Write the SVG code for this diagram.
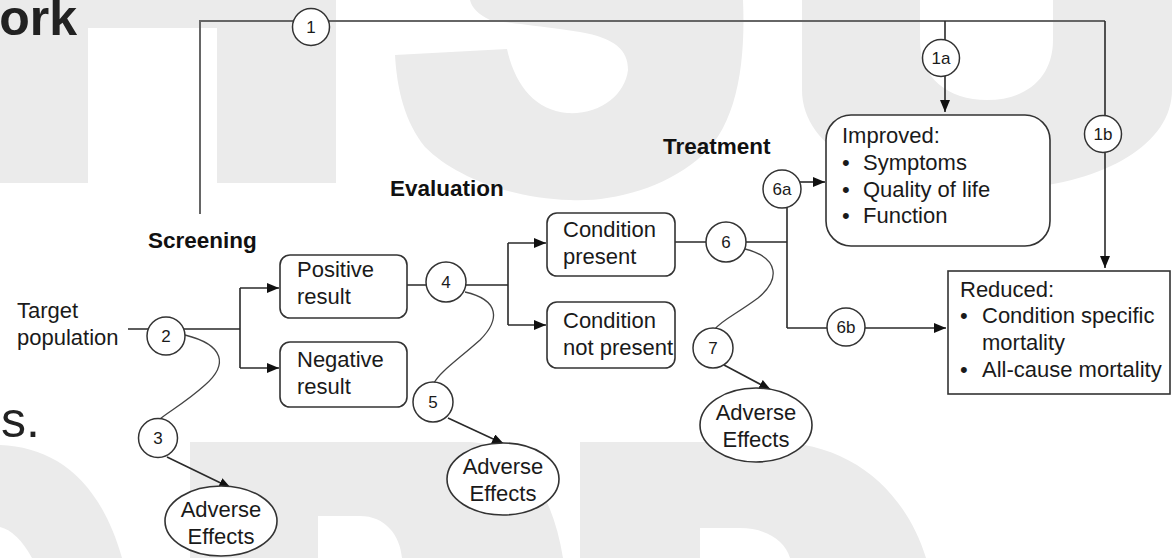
<svg xmlns="http://www.w3.org/2000/svg" width="1175" height="558" viewBox="0 0 1175 558">
<defs>
<style>
.wm{fill:#ebebeb;stroke:none}
.big{font-family:"Liberation Sans",Arial,sans-serif;fill:#222}
.t{font-family:"Liberation Sans",Arial,sans-serif;font-size:22px;fill:#1a1a1a}
.b{font-family:"Liberation Sans",Arial,sans-serif;font-size:22.5px;font-weight:bold;fill:#111}
.n{font-family:"Liberation Sans",Arial,sans-serif;font-size:17px;fill:#1a1a1a;text-anchor:middle}
.c{font-family:"Liberation Sans",Arial,sans-serif;font-size:22px;fill:#1a1a1a;text-anchor:middle}
.box{fill:#fff;stroke:#333;stroke-width:1.6}
.circ{fill:#fff;stroke:#333;stroke-width:1.5}
.ln{fill:none;stroke:#2a2a2a;stroke-width:1.6}
.gl{fill:none;stroke:#666;stroke-width:2}
.cv{fill:none;stroke:#444;stroke-width:1.3}
</style>
<marker id="ah" viewBox="0 0 12 10" refX="12" refY="5" markerWidth="12" markerHeight="10" markerUnits="userSpaceOnUse" orient="auto">
<path d="M0,0 L12,5 L0,10 z" fill="#111"/>
</marker>
</defs>
<rect width="1175" height="558" fill="#fff"/>
<g id="watermark">
<path class="wm" d="M0,0 H336 V183 H217 V28 H88 V183 H0 Z"/>
<path class="wm" d="M470,0 H743 C746,70 735,130 697,160 C660,190 610,202 570,200 C510,198 455,177 425,147 C405,122 397,90 395,55 L507,49 C515,85 535,110 567,113 C600,115 625,95 628,70 C628,50 615,38 580,32 C540,26 500,22 490,20 C478,14 472,8 470,0 Z"/>
<path class="wm" d="M802,0 H920 V40 C920,78 948,100 987,100 C1026,100 1053,78 1053,40 V0 H1172 V90 C1172,150 1090,190 987,190 C880,190 802,150 802,90 Z"/>
<path class="wm" d="M0,445 C55,447 100,480 122,558 L32,558 C22,540 12,530 0,527 Z"/>
<path class="wm" d="M190,442 H470 C520,444 552,490 563,558 H402 C400,535 385,516 360,516 H318 V558 H190 Z"/>
<path class="wm" d="M580,442 H772 C850,442 905,490 926,558 H790 C785,540 765,528 740,528 H700 V558 H580 Z"/>
</g>
<g id="page-text">
<text class="big" x="77" y="35" font-size="50" font-weight="bold" text-anchor="end">ork</text>
<text class="big" x="1" y="437" font-size="50">s.</text>
</g>
<g id="connectors">
<path class="gl" d="M200,214 V21 H1105"/>
<path class="ln" d="M945,21 V112" marker-end="url(#ah)"/>
<path class="ln" d="M1105,21 V268" marker-end="url(#ah)"/>
<path class="ln" d="M128,329 H240 M240,288 V368"/>
<path class="ln" d="M240,288 H279" marker-end="url(#ah)"/>
<path class="ln" d="M240,368 H279" marker-end="url(#ah)"/>
<path class="ln" d="M407,285 H508 M508,243 V325"/>
<path class="ln" d="M508,243 H546" marker-end="url(#ah)"/>
<path class="ln" d="M508,325 H546" marker-end="url(#ah)"/>
<path class="ln" d="M675,242 H787 M787,200 V328"/>
<path class="ln" d="M787,328 H946" marker-end="url(#ah)"/>
<path class="ln" d="M800,182 H825" marker-end="url(#ah)"/>
<path class="cv" d="M185,335 C225,345 228,365 205,385 C185,403 168,412 160,419"/>
<path class="ln" d="M167,457 L231,488" marker-end="url(#ah)"/>
<path class="cv" d="M465,292 C500,300 500,320 480,340 C455,362 440,372 434,383"/>
<path class="ln" d="M448,418 L504,444" marker-end="url(#ah)"/>
<path class="cv" d="M745,249 C780,258 780,280 758,298 C735,315 722,320 715,329"/>
<path class="ln" d="M724,365 L771,390" marker-end="url(#ah)"/>
</g>
<g id="labels">
<text class="b" x="148" y="248">Screening</text>
<text class="b" x="390" y="196">Evaluation</text>
<text class="b" x="663" y="154">Treatment</text>
</g>
<g id="target"><text class="t" x="17" y="318">Target</text><text class="t" x="17" y="345">population</text></g>
<g id="positive"><rect class="box" x="280" y="255" width="127" height="63" rx="10"/><text class="t" x="297" y="277">Positive</text><text class="t" x="297" y="304">result</text></g>
<g id="negative"><rect class="box" x="280" y="342" width="127" height="65" rx="10"/><text class="t" x="297" y="367">Negative</text><text class="t" x="297" y="394">result</text></g>
<g id="cond-present"><rect class="box" x="547" y="213" width="128" height="63" rx="10"/><text class="t" x="563" y="237">Condition</text><text class="t" x="563" y="264">present</text></g>
<g id="cond-not-present"><rect class="box" x="547" y="302" width="128" height="66" rx="10"/><text class="t" x="563" y="328">Condition</text><text class="t" x="563" y="355">not present</text></g>
<g id="improved"><rect class="box" x="826" y="115" width="224" height="131" rx="25"/>
<text class="t" x="842" y="143" fill="#333">Improved:</text>
<text class="t" x="842" y="170">•</text><text class="t" x="863" y="170">Symptoms</text>
<text class="t" x="842" y="197">•</text><text class="t" x="863" y="197">Quality of life</text>
<text class="t" x="842" y="223">•</text><text class="t" x="863" y="223">Function</text></g>
<g id="reduced"><rect class="box" x="948" y="271" width="222" height="123"/>
<text class="t" x="960" y="297">Reduced:</text>
<text class="t" x="960" y="323">•</text><text class="t" x="982" y="323">Condition specific</text>
<text class="t" x="982" y="350">mortality</text>
<text class="t" x="960" y="377">•</text><text class="t" x="982" y="377">All-cause mortality</text></g>
<g id="ae3"><ellipse class="box" cx="221" cy="521" rx="56" ry="35"/><text class="c" x="221" y="517">Adverse</text><text class="c" x="221" y="544">Effects</text></g>
<g id="ae5"><ellipse class="box" cx="503" cy="479" rx="56" ry="36"/><text class="c" x="503" y="474">Adverse</text><text class="c" x="503" y="501">Effects</text></g>
<g id="ae7"><ellipse class="box" cx="756" cy="425" rx="56" ry="37"/><text class="c" x="756" y="420">Adverse</text><text class="c" x="756" y="447">Effects</text></g>
<g id="k1"><circle class="circ" cx="311" cy="27" r="18.5"/><text class="n" x="311" y="33">1</text></g>
<g id="k1a"><circle class="circ" cx="941" cy="58" r="18.5"/><text class="n" x="941" y="64">1a</text></g>
<g id="k1b"><circle class="circ" cx="1103" cy="134" r="18.5"/><text class="n" x="1103" y="140">1b</text></g>
<g id="k2"><circle class="circ" cx="166" cy="336" r="19"/><text class="n" x="166" y="342">2</text></g>
<g id="k3"><circle class="circ" cx="158" cy="438" r="19.5"/><text class="n" x="158" y="444">3</text></g>
<g id="k4"><circle class="circ" cx="446" cy="282" r="20"/><text class="n" x="446" y="288">4</text></g>
<g id="k5"><circle class="circ" cx="433" cy="402" r="20"/><text class="n" x="433" y="408">5</text></g>
<g id="k6"><circle class="circ" cx="726" cy="242" r="20"/><text class="n" x="726" y="248">6</text></g>
<g id="k6a"><circle class="circ" cx="782" cy="189" r="19"/><text class="n" x="782" y="195">6a</text></g>
<g id="k6b"><circle class="circ" cx="846" cy="327" r="19"/><text class="n" x="846" y="333">6b</text></g>
<g id="k7"><circle class="circ" cx="713" cy="348" r="20"/><text class="n" x="713" y="354">7</text></g>
</svg>
